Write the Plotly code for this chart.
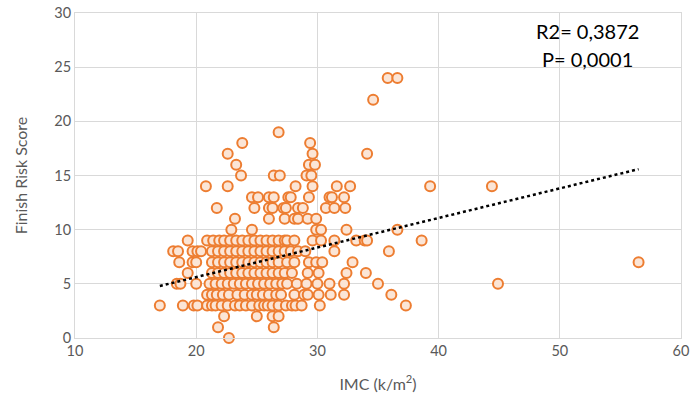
import plotly.graph_objects as go

# Finish Risk Score levels and the IMC values observed at each level
score_levels = [0, 1, 2, 3, 4, 5, 6, 7, 8, 9, 10, 11, 12, 13, 14, 15, 16, 17, 18, 19, 22, 24]

imc_s0 = [22.7]
imc_s1 = [21.8, 26.4]
imc_s2 = [22.3, 25.0, 26.3, 26.8]
imc_s3 = [17.0, 18.9, 19.8, 20.1, 20.9, 21.3, 21.6, 22.1, 22.6, 23.2, 23.6, 24.1, 24.6, 25.2,
          25.6, 25.9, 26.3, 26.8, 27.4, 27.9, 28.2, 28.7, 30.2, 37.3]
imc_s4 = [20.9, 21.3, 21.7, 22.2, 22.7, 23.4, 24.0, 24.6, 25.0, 25.5, 26.0, 26.6, 27.0, 28.1,
          28.9, 29.2, 30.1, 31.1, 32.2, 36.1]
imc_s5 = [18.4, 18.7, 20.0, 21.1, 21.6, 22.1, 22.6, 23.1, 23.6, 24.1, 24.6, 25.1, 25.6, 26.1,
          26.6, 27.1, 27.5, 28.3, 29.1, 30.0, 31.0, 32.2, 35.0, 44.9]
imc_s6 = [19.3, 21.3, 21.8, 22.3, 22.8, 23.3, 23.8, 24.3, 24.8, 25.3, 25.8, 26.3, 26.8, 27.3,
          27.9, 29.2, 30.1, 32.4, 34.0]
imc_s7 = [18.6, 19.7, 20.0, 21.3, 21.8, 22.3, 22.8, 23.3, 23.8, 24.3, 24.8, 25.3, 25.8, 26.3,
          26.8, 27.5, 28.1, 29.3, 29.9, 30.4, 32.9, 56.5]
imc_s8 = [18.1, 18.5, 19.7, 20.1, 20.4, 21.3, 21.8, 22.3, 22.8, 23.3, 23.8, 24.3, 24.8, 25.3,
          25.8, 26.3, 26.8, 27.3, 27.8, 28.4, 29.0, 31.4, 35.9]
imc_s9 = [19.3, 20.9, 21.4, 21.9, 22.3, 22.8, 23.3, 23.8, 24.3, 24.8, 25.3, 25.8, 26.3, 26.8,
          27.3, 27.5, 28.1, 29.6, 30.3, 31.4, 33.2, 33.9, 34.1, 38.6]
imc_s10 = [22.9, 24.6, 29.9, 30.3, 32.4, 36.6]
imc_s11 = [23.2, 26.0, 27.3, 28.1, 28.4, 29.2, 29.9]
imc_s12 = [21.7, 24.8, 26.0, 26.3, 27.2, 27.4, 28.4, 28.8, 30.7, 31.4, 32.3]
imc_s13 = [24.6, 25.1, 26.0, 26.4, 27.6, 27.8, 29.3, 31.0, 31.2, 32.2]
imc_s14 = [20.8, 22.6, 28.2, 29.6, 31.6, 32.7, 39.3, 44.4]
imc_s15 = [23.7, 26.4, 26.9, 29.1, 29.5]
imc_s16 = [23.3, 29.3, 29.8]
imc_s17 = [22.6, 29.6, 34.1]
imc_s18 = [23.8, 29.4]
imc_s19 = [26.8]
imc_s22 = [34.6]
imc_s24 = [35.8, 36.6]

imc_rows = [imc_s0, imc_s1, imc_s2, imc_s3, imc_s4, imc_s5, imc_s6, imc_s7, imc_s8, imc_s9,
            imc_s10, imc_s11, imc_s12, imc_s13, imc_s14, imc_s15, imc_s16, imc_s17, imc_s18,
            imc_s19, imc_s22, imc_s24]

# Linear trendline
trend_slope = 0.273
trend_intercept = 0.16

# Axis ticks
x_ticks = [10, 20, 30, 40, 50, 60]
y_ticks = [0, 5, 10, 15, 20, 25, 30]

annotation_lines = ["R2= 0,3872", "P= 0,0001"]

imc = []
score = []
for lvl, row in zip(score_levels, imc_rows):
    for v in row:
        imc.append(v)
        score.append(lvl)

x_min, x_max = min(imc), max(imc)
trend_x = [x_min, x_max]
trend_y = [trend_intercept + trend_slope * v for v in trend_x]

fig = go.Figure()
fig.add_trace(go.Scatter(
    x=imc, y=score, mode="markers",
    marker=dict(size=10, color="#FBE5D6", line=dict(color="#ED7D31", width=2)),
    showlegend=False, hoverinfo="x+y", cliponaxis=False,
))
fig.add_trace(go.Scatter(
    x=trend_x, y=trend_y, mode="lines",
    line=dict(color="black", width=2.5, dash="dot"),
    showlegend=False, hoverinfo="skip",
))

font_family = "Lato, 'Open Sans', sans-serif"
axis_common = dict(
    showgrid=True, gridcolor="#D9D9D9", gridwidth=1,
    showline=True, linecolor="#D9D9D9", linewidth=1, mirror=True,
    zeroline=False, ticks="", ticklabeloverflow="allow",
    tickfont=dict(family=font_family, size=14.5, color="#595959"),
)
fig.update_xaxes(range=[10, 60], tickvals=x_ticks, automargin=False,
                 title=dict(text="IMC (k/m<sup>2</sup>)",
                            font=dict(family=font_family, size=16, color="#595959"),
                            standoff=20),
                 **axis_common)
fig.update_yaxes(range=[0, 30], tickvals=y_ticks, automargin=False,
                 title=dict(text="Finish Risk Score",
                            font=dict(family=font_family, size=16, color="#595959"),
                            standoff=22),
                 **axis_common)

fig.add_annotation(x=52.3, y=28.3, xref="x", yref="y", text=annotation_lines[0],
                   showarrow=False, font=dict(family=font_family, size=20, color="#000000"))
fig.add_annotation(x=52.3, y=25.8, xref="x", yref="y", text=annotation_lines[1],
                   showarrow=False, font=dict(family=font_family, size=20, color="#000000"))

fig.update_layout(
    width=690, height=403,
    margin=dict(l=75, r=9, t=13, b=65),
    paper_bgcolor="white", plot_bgcolor="white",
)

# remove the browser's default 8px body margin so the figure fills the window
fig.write_html("out.html", config={"displayModeBar": False},
               post_script="document.body.style.margin='0';")
